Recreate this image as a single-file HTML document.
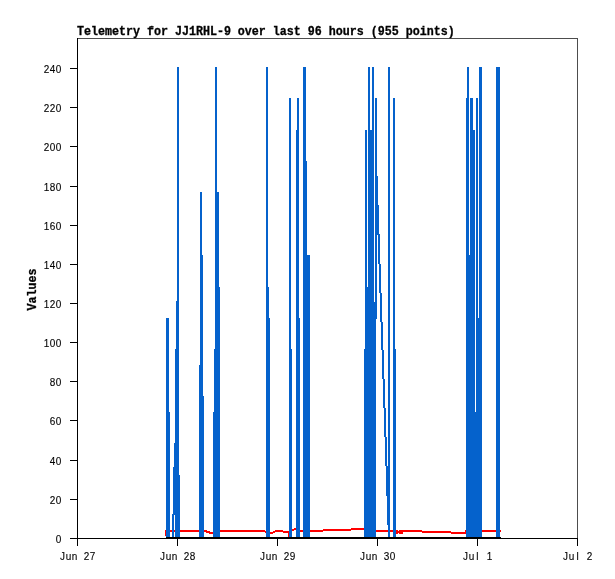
<!DOCTYPE html>
<html><head><meta charset="utf-8"><title>Telemetry</title>
<style>
html,body{margin:0;padding:0;background:#fff;}
svg{display:block}
text{font-family:"Liberation Mono",monospace;fill:#000}
.s{font-size:10px;font-family:"Liberation Sans",sans-serif;stroke:#000;stroke-width:0.12px}
.b{font-size:11.667px;font-weight:bold;stroke:#000;stroke-width:0.3px}
</style></head><body>
<svg width="615" height="579" viewBox="0 0 615 579">
<rect width="615" height="579" fill="#fff"/>
<g shape-rendering="crispEdges">
<rect x="77" y="38" width="501" height="1" fill="#4d4d4d"/>
<rect x="577" y="38" width="1" height="501" fill="#4d4d4d"/>
<rect x="77" y="38" width="1" height="501" fill="#000"/>
<rect x="77" y="538" width="501" height="1" fill="#000"/>
<rect x="70" y="538" width="8" height="1" fill="#000"/>
<rect x="70" y="499" width="8" height="1" fill="#000"/>
<rect x="70" y="460" width="8" height="1" fill="#000"/>
<rect x="70" y="420" width="8" height="1" fill="#000"/>
<rect x="70" y="381" width="8" height="1" fill="#000"/>
<rect x="70" y="342" width="8" height="1" fill="#000"/>
<rect x="70" y="303" width="8" height="1" fill="#000"/>
<rect x="70" y="264" width="8" height="1" fill="#000"/>
<rect x="70" y="225" width="8" height="1" fill="#000"/>
<rect x="70" y="186" width="8" height="1" fill="#000"/>
<rect x="70" y="146" width="8" height="1" fill="#000"/>
<rect x="70" y="107" width="8" height="1" fill="#000"/>
<rect x="70" y="68" width="8" height="1" fill="#000"/>
<rect x="77" y="538" width="1" height="8" fill="#000"/>
<rect x="177" y="538" width="1" height="8" fill="#000"/>
<rect x="277" y="538" width="1" height="8" fill="#000"/>
<rect x="377" y="538" width="1" height="8" fill="#000"/>
<rect x="477" y="538" width="1" height="8" fill="#000"/>
<rect x="577" y="538" width="1" height="8" fill="#000"/>
<rect x="165" y="530" width="1" height="6" fill="#ff0000"/>
<rect x="165" y="530" width="42" height="2" fill="#ff0000"/>
<rect x="206" y="531" width="4" height="2" fill="#ff0000"/>
<rect x="209" y="532" width="5" height="2" fill="#ff0000"/>
<rect x="219" y="530" width="46" height="2" fill="#ff0000"/>
<rect x="265" y="531" width="2" height="2" fill="#ff0000"/>
<rect x="269" y="532" width="4" height="2" fill="#ff0000"/>
<rect x="273" y="531" width="2" height="2" fill="#ff0000"/>
<rect x="275" y="530" width="8" height="2" fill="#ff0000"/>
<rect x="283" y="531" width="6" height="2" fill="#ff0000"/>
<rect x="288" y="531" width="1" height="6" fill="#ff0000"/>
<rect x="291" y="529" width="3" height="2" fill="#ff0000"/>
<rect x="294" y="528" width="2" height="2" fill="#ff0000"/>
<rect x="296" y="529" width="1" height="2" fill="#ff0000"/>
<rect x="297" y="530" width="26" height="2" fill="#ff0000"/>
<rect x="323" y="529" width="28" height="2" fill="#ff0000"/>
<rect x="351" y="528" width="14" height="2" fill="#ff0000"/>
<rect x="375" y="530" width="22" height="2" fill="#ff0000"/>
<rect x="396" y="530" width="2" height="4" fill="#ff0000"/>
<rect x="398" y="531" width="1" height="2" fill="#ff0000"/>
<rect x="399" y="530" width="4" height="4" fill="#ff0000"/>
<rect x="402" y="530" width="20" height="2" fill="#ff0000"/>
<rect x="422" y="531" width="29" height="2" fill="#ff0000"/>
<rect x="451" y="532" width="15" height="2" fill="#ff0000"/>
<rect x="465" y="530" width="1" height="4" fill="#ff0000"/>
<rect x="481" y="530" width="20" height="2" fill="#ff0000"/>
<rect x="166" y="318" width="3" height="219" fill="#0562cc"/>
<rect x="169" y="412" width="1" height="125" fill="#0562cc"/>
<rect x="177" y="67" width="2" height="470" fill="#0562cc"/>
<rect x="176" y="301" width="1" height="236" fill="#0562cc"/>
<rect x="175" y="349" width="1" height="188" fill="#0562cc"/>
<rect x="174" y="443" width="1" height="72" fill="#0562cc"/>
<rect x="173" y="467" width="1" height="70" fill="#0562cc"/>
<rect x="179" y="475" width="1" height="62" fill="#0562cc"/>
<rect x="172" y="514" width="1" height="23" fill="#0562cc"/>
<rect x="172" y="514" width="4" height="1" fill="#0562cc"/>
<rect x="200" y="192" width="2" height="345" fill="#0562cc"/>
<rect x="202" y="255" width="1" height="282" fill="#0562cc"/>
<rect x="199" y="365" width="1" height="172" fill="#0562cc"/>
<rect x="203" y="396" width="1" height="141" fill="#0562cc"/>
<rect x="215" y="67" width="2" height="470" fill="#0562cc"/>
<rect x="217" y="192" width="2" height="345" fill="#0562cc"/>
<rect x="219" y="287" width="1" height="250" fill="#0562cc"/>
<rect x="214" y="349" width="1" height="188" fill="#0562cc"/>
<rect x="213" y="412" width="1" height="125" fill="#0562cc"/>
<rect x="266" y="67" width="2" height="470" fill="#0562cc"/>
<rect x="268" y="287" width="1" height="250" fill="#0562cc"/>
<rect x="269" y="318" width="1" height="219" fill="#0562cc"/>
<rect x="289" y="98" width="2" height="439" fill="#0562cc"/>
<rect x="291" y="349" width="1" height="188" fill="#0562cc"/>
<rect x="297" y="98" width="2" height="439" fill="#0562cc"/>
<rect x="296" y="130" width="1" height="407" fill="#0562cc"/>
<rect x="299" y="318" width="1" height="219" fill="#0562cc"/>
<rect x="303" y="67" width="3" height="470" fill="#0562cc"/>
<rect x="306" y="161" width="1" height="376" fill="#0562cc"/>
<rect x="307" y="255" width="3" height="282" fill="#0562cc"/>
<rect x="365" y="130" width="2" height="407" fill="#0562cc"/>
<rect x="367" y="287" width="1" height="250" fill="#0562cc"/>
<rect x="368" y="67" width="2" height="470" fill="#0562cc"/>
<rect x="370" y="130" width="2" height="407" fill="#0562cc"/>
<rect x="372" y="67" width="2" height="470" fill="#0562cc"/>
<rect x="374" y="302" width="1" height="235" fill="#0562cc"/>
<rect x="375" y="98" width="1" height="439" fill="#0562cc"/>
<rect x="376" y="98" width="1" height="221" fill="#0562cc"/>
<rect x="377" y="176" width="1" height="59" fill="#0562cc"/>
<rect x="378" y="205" width="1" height="59" fill="#0562cc"/>
<rect x="379" y="234" width="1" height="59" fill="#0562cc"/>
<rect x="380" y="264" width="1" height="58" fill="#0562cc"/>
<rect x="381" y="293" width="1" height="57" fill="#0562cc"/>
<rect x="382" y="322" width="1" height="57" fill="#0562cc"/>
<rect x="383" y="350" width="1" height="58" fill="#0562cc"/>
<rect x="384" y="379" width="1" height="58" fill="#0562cc"/>
<rect x="385" y="408" width="1" height="58" fill="#0562cc"/>
<rect x="386" y="437" width="1" height="59" fill="#0562cc"/>
<rect x="387" y="466" width="1" height="59" fill="#0562cc"/>
<rect x="364" y="349" width="1" height="188" fill="#0562cc"/>
<rect x="388" y="67" width="2" height="470" fill="#0562cc"/>
<rect x="393" y="98" width="2" height="439" fill="#0562cc"/>
<rect x="395" y="349" width="1" height="188" fill="#0562cc"/>
<rect x="467" y="67" width="2" height="470" fill="#0562cc"/>
<rect x="466" y="98" width="1" height="439" fill="#0562cc"/>
<rect x="469" y="255" width="1" height="282" fill="#0562cc"/>
<rect x="470" y="98" width="3" height="439" fill="#0562cc"/>
<rect x="473" y="130" width="2" height="407" fill="#0562cc"/>
<rect x="475" y="412" width="1" height="125" fill="#0562cc"/>
<rect x="476" y="98" width="2" height="439" fill="#0562cc"/>
<rect x="478" y="318" width="1" height="219" fill="#0562cc"/>
<rect x="479" y="67" width="3" height="470" fill="#0562cc"/>
<rect x="496" y="67" width="4" height="470" fill="#0562cc"/>
<rect x="166" y="537" width="335" height="1" fill="#000"/>
</g>
<g opacity="0.999">
<text class="s" text-anchor="middle" transform="translate(0,543) scale(1,1.12)" x="58.5" y="0">0</text>
<text class="s" text-anchor="middle" transform="translate(0,504) scale(1,1.12)" x="52.5 58.5" y="0">20</text>
<text class="s" text-anchor="middle" transform="translate(0,465) scale(1,1.12)" x="52.5 58.5" y="0">40</text>
<text class="s" text-anchor="middle" transform="translate(0,425) scale(1,1.12)" x="52.5 58.5" y="0">60</text>
<text class="s" text-anchor="middle" transform="translate(0,386) scale(1,1.12)" x="52.5 58.5" y="0">80</text>
<text class="s" text-anchor="middle" transform="translate(0,347) scale(1,1.12)" x="46.5 52.5 58.5" y="0">100</text>
<text class="s" text-anchor="middle" transform="translate(0,308) scale(1,1.12)" x="46.5 52.5 58.5" y="0">120</text>
<text class="s" text-anchor="middle" transform="translate(0,269) scale(1,1.12)" x="46.5 52.5 58.5" y="0">140</text>
<text class="s" text-anchor="middle" transform="translate(0,230) scale(1,1.12)" x="46.5 52.5 58.5" y="0">160</text>
<text class="s" text-anchor="middle" transform="translate(0,191) scale(1,1.12)" x="46.5 52.5 58.5" y="0">180</text>
<text class="s" text-anchor="middle" transform="translate(0,151) scale(1,1.12)" x="46.5 52.5 58.5" y="0">200</text>
<text class="s" text-anchor="middle" transform="translate(0,112) scale(1,1.12)" x="46.5 52.5 58.5" y="0">220</text>
<text class="s" text-anchor="middle" transform="translate(0,73) scale(1,1.12)" x="46.5 52.5 58.5" y="0">240</text>
<text class="s" text-anchor="middle" transform="translate(0,560) scale(1,1.12)" x="62.5 68.5 74.5 80.5 86.5 92.5" y="0">Jun 27</text>
<text class="s" text-anchor="middle" transform="translate(0,560) scale(1,1.12)" x="162.5 168.5 174.5 180.5 186.5 192.5" y="0">Jun 28</text>
<text class="s" text-anchor="middle" transform="translate(0,560) scale(1,1.12)" x="262.5 268.5 274.5 280.5 286.5 292.5" y="0">Jun 29</text>
<text class="s" text-anchor="middle" transform="translate(0,560) scale(1,1.12)" x="362.5 368.5 374.5 380.5 386.5 392.5" y="0">Jun 30</text>
<text class="s" text-anchor="middle" transform="translate(0,560) scale(1,1.12)" x="465.5 471.5 477.5 483.5 489.5" y="0">Jul 1</text>
<text class="s" text-anchor="middle" transform="translate(0,560) scale(1,1.12)" x="565.5 571.5 577.5 583.5 589.5" y="0">Jul 2</text>
<text class="b" transform="translate(77,35) scale(1,1.04)">Telemetry for JJ1RHL-9 over last 96 hours (955 points)</text>
<text class="b" text-anchor="middle" transform="translate(36,289.5) rotate(-90) scale(1,1.04)">Values</text>
</g>
</svg>
</body></html>
